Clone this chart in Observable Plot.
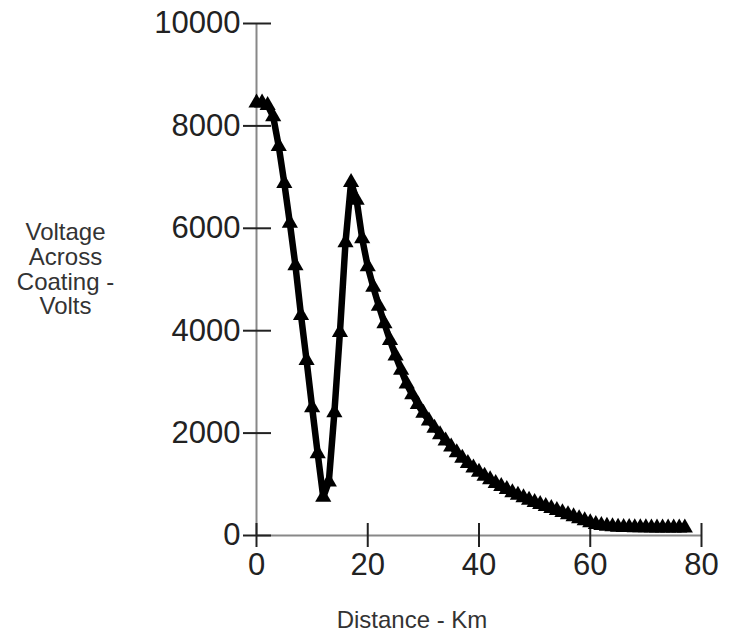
<!DOCTYPE html>
<html>
<head>
<meta charset="utf-8">
<script src="https://cdn.jsdelivr.net/npm/d3@7"></script>
<script src="https://cdn.jsdelivr.net/npm/@observablehq/plot@0.6"></script>
<style>
  html, body { margin: 0; padding: 0; background: #fff; }
  #chart svg { overflow: visible; }
</style>
</head>
<body>
<div id="chart"></div>
<script>
const distanceKm = [
  0, 1, 2, 3, 4, 5, 6, 7, 8, 9,
  10, 11, 12, 13, 14, 15, 16, 17, 18, 19,
  20, 21, 22, 23, 24, 25, 26, 27, 28, 29,
  30, 31, 32, 33, 34, 35, 36, 37, 38, 39,
  40, 41, 42, 43, 44, 45, 46, 47, 48, 49,
  50, 51, 52, 53, 54, 55, 56, 57, 58, 59,
  60, 61, 62, 63, 64, 65, 66, 67, 68, 69,
  70, 71, 72, 73, 74, 75, 76, 77
];
const voltageVolts = [
  8450, 8450, 8400, 8180, 7600, 6880, 6100, 5270, 4300, 3420,
  2500, 1600, 750, 1050, 2400, 3970, 5720, 6900, 6550, 5800,
  5250, 4850, 4480, 4140, 3810, 3510, 3230, 2960, 2750, 2560,
  2390, 2240, 2100, 1970, 1850, 1730, 1620, 1510, 1410, 1320,
  1240, 1160, 1090, 1020, 960, 900, 840, 790, 740, 690,
  650, 610, 570, 530, 490, 450, 410, 370, 330, 290,
  250, 220, 200, 185, 175, 165, 160, 160, 155, 155,
  155, 150, 150, 150, 150, 150, 150, 150
];
const xTicks = [0, 20, 40, 60, 80];
const yTicks = [0, 2000, 4000, 6000, 8000, 10000];
const xTitle = "Distance - Km";
const yTitle = "Voltage\nAcross\nCoating -\nVolts";

const data = distanceKm.map((d, i) => ({distance: d, voltage: voltageVolts[i]}));

const font = "Liberation Sans, Arial, Helvetica, sans-serif";

const chart = Plot.plot({
  width: 737,
  height: 634,
  marginLeft: 256,
  marginRight: 36,
  marginTop: 23,
  marginBottom: 99,
  style: {fontFamily: font, background: "#fff", color: "#222"},
  x: {domain: [0, 80]},
  y: {domain: [0, 10000]},
  marks: [
    Plot.ruleY([0], {stroke: "#888", strokeWidth: 2}),
    Plot.ruleX([0], {stroke: "#888", strokeWidth: 2}),
    Plot.axisX({ticks: xTicks, tickSize: 24, dy: -12, tickFormat: () => "", label: null, stroke: "#222", strokeWidth: 2}),
    Plot.axisX({ticks: xTicks, tickSize: 0, tickPadding: 17, tickFormat: d => String(d), label: null, fontSize: 31, fill: "#222"}),
    Plot.axisY({ticks: yTicks, tickSize: 28, dx: 15, tickFormat: () => "", label: null, stroke: "#222", strokeWidth: 2}),
    Plot.axisY({ticks: yTicks, tickSize: 0, tickPadding: 16, tickFormat: d => String(d), label: null, fontSize: 31, fill: "#222"}),
    Plot.line(data, {x: "distance", y: "voltage", stroke: "black", strokeWidth: 6.5}),
    Plot.dot(data, {x: "distance", y: "voltage", symbol: "triangle", r: 6, fill: "black", stroke: "none"}),
    Plot.text([yTitle], {frameAnchor: "left", dx: -191, dy: -10, textAnchor: "middle", lineAnchor: "middle", fontSize: 24, lineHeight: 1.03, fill: "#333"}),
    Plot.text([xTitle], {frameAnchor: "bottom", dx: -67, dy: 85, textAnchor: "middle", lineAnchor: "middle", fontSize: 24, fill: "#333"})
  ]
});
document.getElementById("chart").appendChild(chart);
</script>
</body>
</html>
